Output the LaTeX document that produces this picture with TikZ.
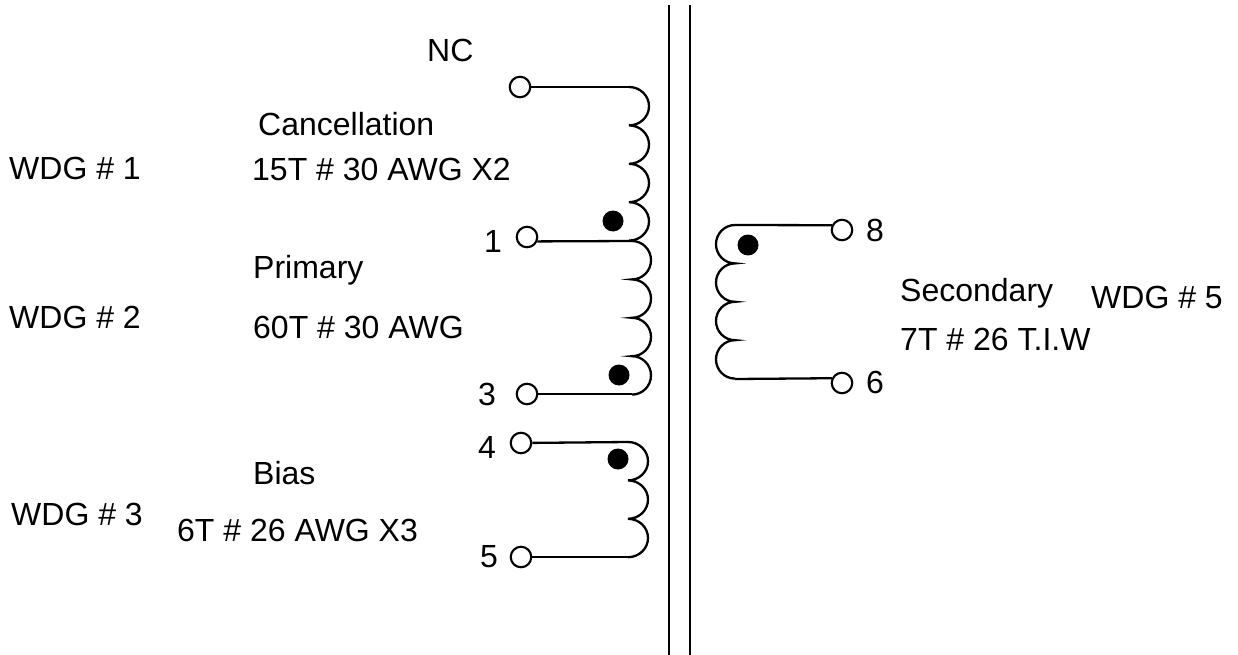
\documentclass[tikz,border=0pt]{standalone}
\usepackage{fontspec}
\setmainfont{Liberation Sans}
\newcommand{\coilarc}[1]{arc[start angle=-90,end angle=90,x radius=#1,y radius=19.2]}
\newcommand{\coilarcl}[1]{arc[start angle=270,end angle=90,x radius=#1,y radius=19.2]}
\begin{document}
\begin{tikzpicture}[x=1pt,y=-1pt,
  wire/.style={line width=2.3pt,line cap=butt},
  term/.style={circle,draw,line width=2.1pt,fill=white,minimum size=20.5pt,inner sep=0pt},
  polarity/.style={circle,fill=black,minimum size=21pt,inner sep=0pt},
  lbl/.style={anchor=base west,inner sep=0pt,font=\fontsize{32}{32}\selectfont}]
\useasboundingbox (0,0) rectangle (1238,655);
% core
\coordinate (corea1) at (669,5); \coordinate (corea2) at (669,655);
\coordinate (coreb1) at (690,5); \coordinate (coreb2) at (690,655);
\draw[wire] (corea1) -- (corea2);
\draw[wire] (coreb1) -- (coreb2);
% coil ends
\coordinate (ca) at (629,87);
\coordinate (cb) at (632,241);
\coordinate (cc) at (632,394);
\coordinate (cd) at (628,442);
\coordinate (ce) at (628,557);
\coordinate (sa) at (735,225);
\coordinate (sb) at (735,379);
% terminals
\node[term] (tnc) at (520,87) {};
\node[term] (t1) at (527,237) {};
\node[term] (t3) at (527,394) {};
\node[term] (t4) at (521,443) {};
\node[term] (t5) at (521,557) {};
\node[term] (t8) at (842,230) {};
\node[term] (t6) at (842,383) {};
% leads
\draw[wire] (tnc) -- (ca);
\draw[wire] (t1.-23) -- (cb);
\draw[wire] (t3) -- (cc);
\draw[wire] (t4) -- (cd);
\draw[wire] (t5) -- (ce);
\draw[wire] (sa) -- (t8.155);
\draw[wire] (sb) -- (t6.155);
% windings
\draw[wire] (ca) \coilarc{20} \coilarc{20} \coilarc{20} \coilarc{20};
\draw[wire] (cb) \coilarc{19} \coilarc{19} \coilarc{19} \coilarc{19};
\draw[wire] (cd) \coilarc{20} \coilarc{20} \coilarc{20};
\draw[wire] (sa) \coilarcl{19} \coilarcl{19} \coilarcl{19} \coilarcl{19};
% polarity dots
\node[polarity] (d1) at (613,221) {};
\node[polarity] (d2) at (619,375) {};
\node[polarity] (d3) at (618,459) {};
\node[polarity] (d4) at (748,245) {};
% labels
\node[lbl] (l1) at (427,62) {NC};
\node[lbl] (l2) at (258,136) {Cancellation};
\node[lbl] (l3) at (9,179) {WDG \# 1};
\node[lbl] (l4) at (252,180) {15T \# 30 AWG X2};
\node[lbl] (l5) at (484,252) {1};
\node[lbl] (l6) at (253,278) {Primary};
\node[lbl] (l7) at (9,328) {WDG \# 2};
\node[lbl] (l8) at (253,338) {60T \# 30 AWG};
\node[lbl] (l9) at (478,405) {3};
\node[lbl] (l10) at (478,458) {4};
\node[lbl] (l11) at (253,484) {Bias};
\node[lbl] (l12) at (11,525) {WDG \# 3};
\node[lbl] (l13) at (177,541) {6T \# 26 AWG X3};
\node[lbl] (l14) at (480,567) {5};
\node[lbl] (l15) at (866,241) {8};
\node[lbl] (l16) at (900,301) {Secondary};
\node[lbl] (l17) at (1091,308) {WDG \# 5};
\node[lbl] (l18) at (900,350) {7T \# 26 T.I.W};
\node[lbl] (l19) at (866,393) {6};
\end{tikzpicture}
\end{document}
